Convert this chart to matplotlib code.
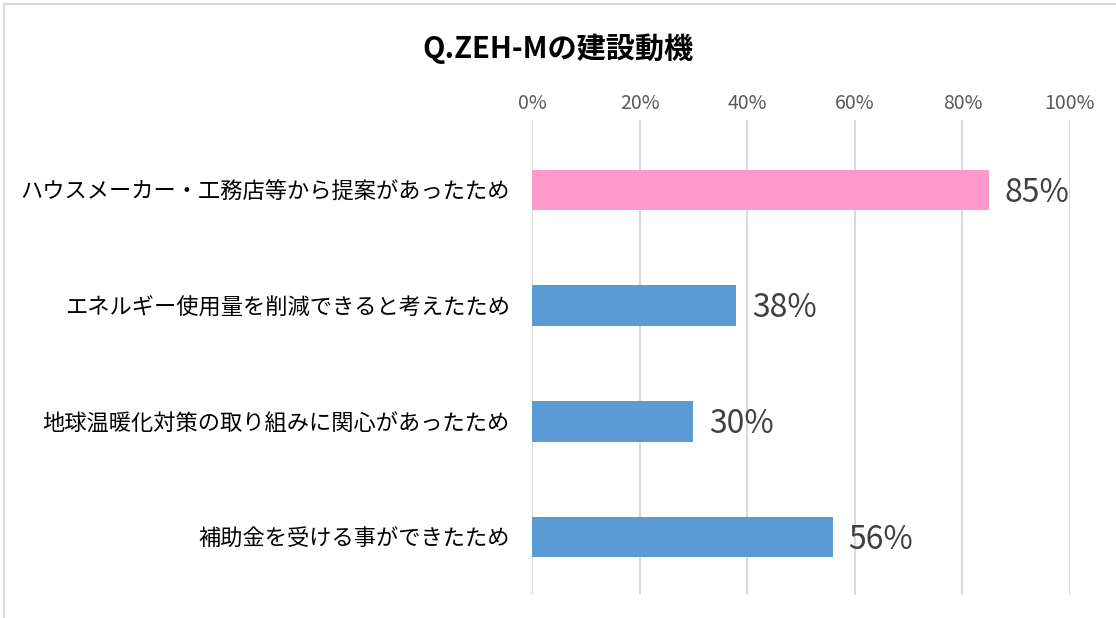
import matplotlib.pyplot as plt
from matplotlib.patches import Rectangle

plt.rcParams['font.family'] = ['Noto Sans CJK JP', 'DejaVu Sans']

# data (top to bottom)
reasons = ['ハウスメーカー・工務店等から提案があったため',
           'エネルギー使用量を削減できると考えたため',
           '地球温暖化対策の取り組みに関心があったため',
           '補助金を受ける事ができたため']
shares = [0.85, 0.38, 0.30, 0.56]
colors = ['#FF99CC', '#5B9BD5', '#5B9BD5', '#5B9BD5']
ticks = [0, 0.2, 0.4, 0.6, 0.8, 1.0]

fig = plt.figure(figsize=(11.16, 6.18), dpi=100)
ax = fig.add_axes([532 / 1116, 1 - 595 / 618, (1070 - 532) / 1116, (595 - 120) / 618])

ypos = list(range(len(reasons)))
ax.barh(ypos, shares, height=0.35, color=colors, zorder=3)

ax.set_xlim(0, 1)
ax.set_ylim(3.5, -0.605)
ax.set_xticks(ticks)
ax.set_xticklabels([f'{int(t * 100)}%' for t in ticks])
ax.xaxis.tick_top()
ax.tick_params(axis='x', length=0, pad=4, labelsize=14, labelcolor='#595959')
ax.set_yticks(ypos)
ax.set_yticklabels(reasons, fontsize=16)
ax.tick_params(axis='y', length=0, pad=16)
ax.grid(axis='x', color='#D9D9D9', linewidth=1.5, zorder=0)
for s in ax.spines.values():
    s.set_visible(False)

# value labels
for y, v in zip(ypos, shares):
    ax.annotate(f'{round(v * 100)}%', (v, y), xytext=(11, -2), textcoords='offset points',
                va='center', ha='left', fontsize=23, color='#404040')

fig.text(0.5, 1 - 49 / 618, 'Q.ZEH-Mの建設動機', ha='center', va='center',
         fontsize=21, fontweight='bold')

# chart frame edge
fig.patches.append(Rectangle((4 / 1116, -0.1), 1.2, 1 - 4 / 618 + 0.1, transform=fig.transFigure,
                             fill=False, edgecolor='#D9D9D9', linewidth=1.5))

plt.savefig('out.png', dpi=100)
